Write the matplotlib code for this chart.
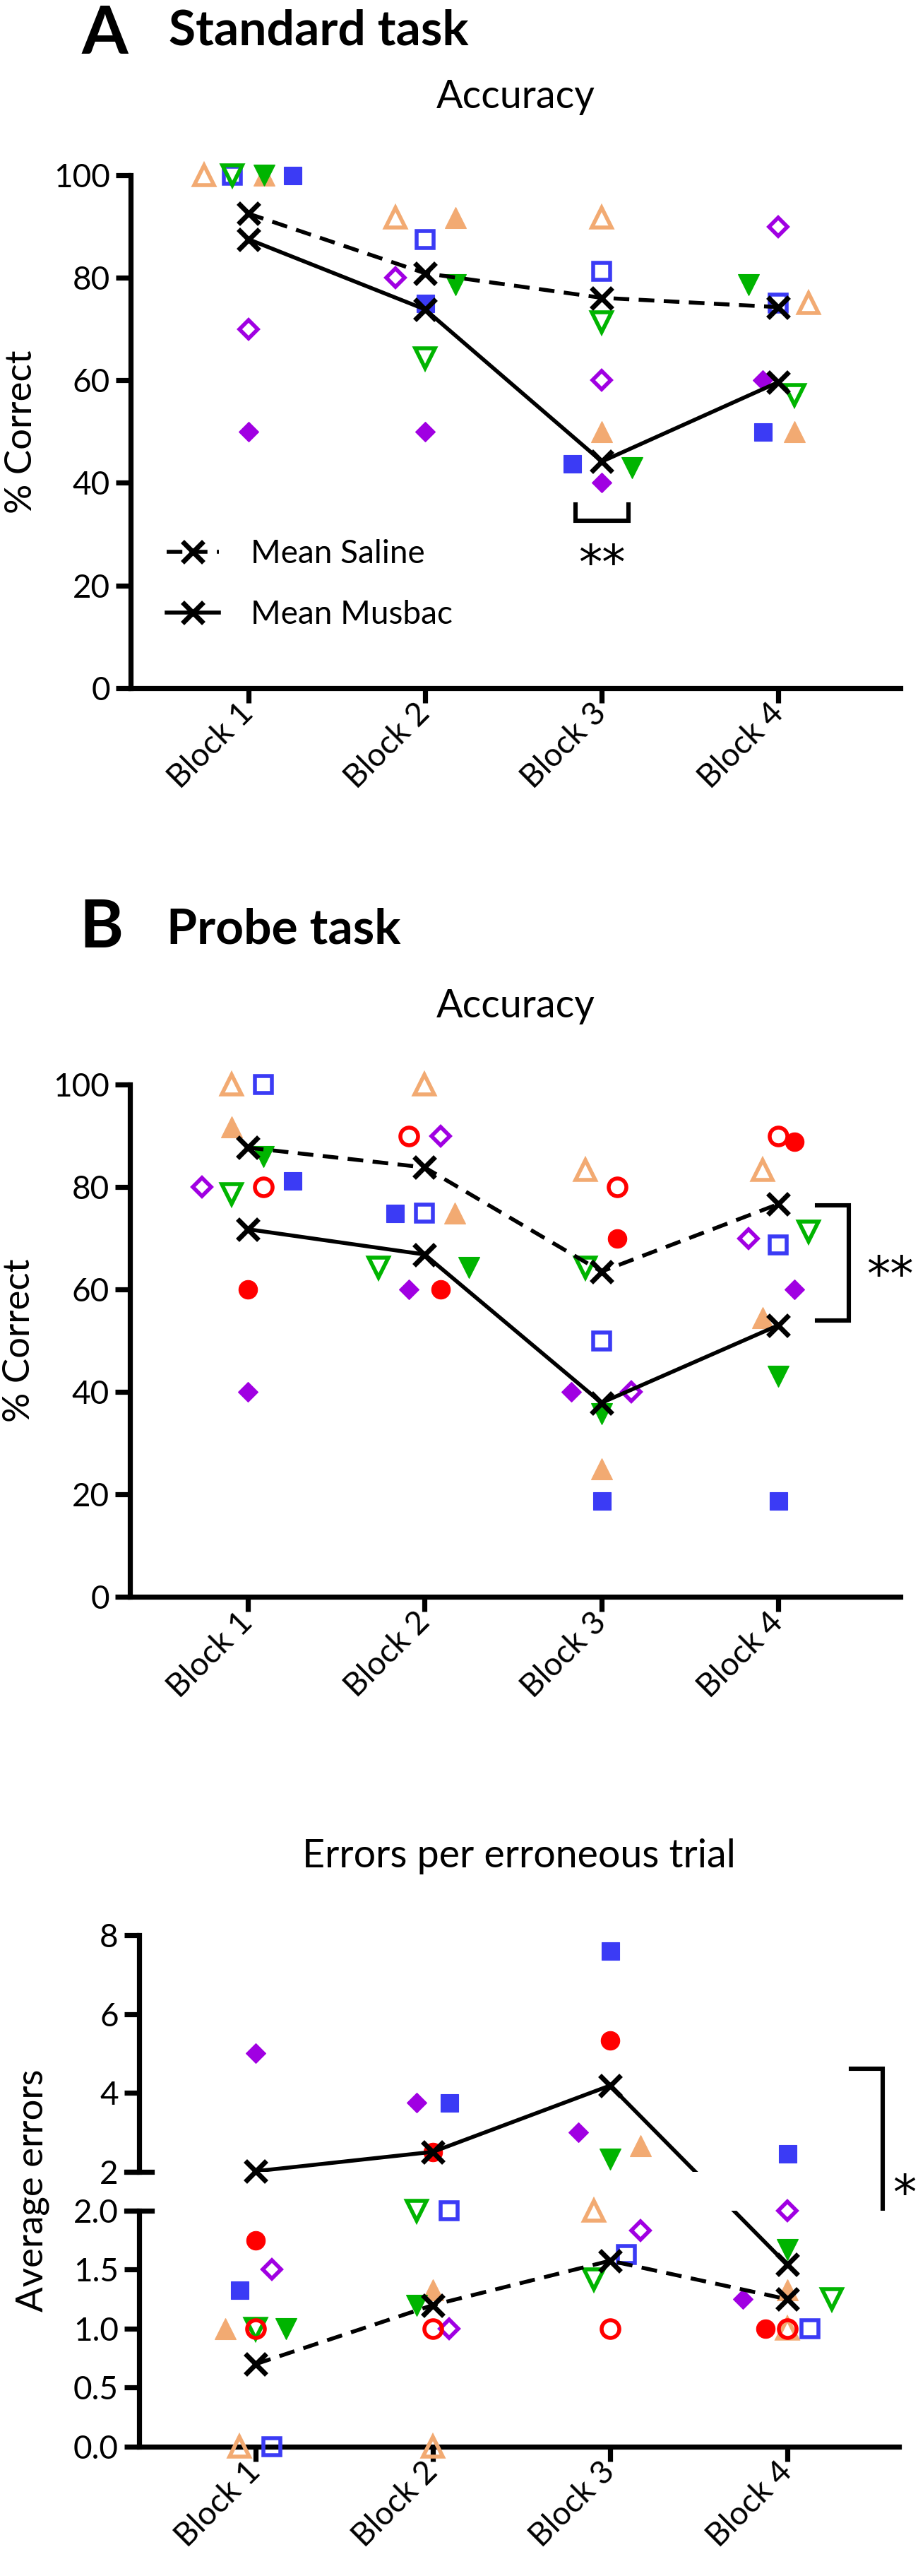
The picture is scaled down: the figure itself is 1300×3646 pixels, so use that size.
import numpy as np
import matplotlib
matplotlib.use('Agg')
from matplotlib import pyplot as plt
from matplotlib.lines import Line2D
from matplotlib.ticker import FormatStrFormatter
import matplotlib.transforms as mtransforms

plt.rcParams['font.family'] = ['Lato', 'DejaVu Sans']

blocks = [1, 2, 3, 4]
block_labels = ['Block 1', 'Block 2', 'Block 3', 'Block 4']

# A - standard task, accuracy (% correct). open symbols = saline, filled = musbac
std_sal_orange = [100, 91.7, 91.7, 75]
std_sal_blue = [100, 87.5, 81.25, 75]
std_sal_green = [100, 64.3, 71.4, 57.1]
std_sal_purple = [70, 80, 60, 90]
std_mus_orange = [100, 91.7, 50, 50]
std_mus_blue = [100, 75, 43.75, 50]
std_mus_green = [100, 78.6, 42.9, 78.6]
std_mus_purple = [50, 50, 40, 60]

# B - probe task, accuracy (% correct)
prb_sal_orange = [100, 100, 83.3, 83.3]
prb_sal_blue = [100, 75, 50, 68.75]
prb_sal_green = [78.6, 64.3, 64.3, 71.4]
prb_sal_purple = [80, 90, 40, 70]
prb_sal_red = [80, 90, 80, 90]
prb_mus_orange = [91.7, 75, 25, 54.5]
prb_mus_blue = [81.25, 75, 18.75, 18.75]
prb_mus_green = [86, 64.3, 35.7, 43]
prb_mus_purple = [40, 60, 40, 60]
prb_mus_red = [60, 60, 70, 88.9]

# probe task, errors per erroneous trial
err_sal_orange = [0, 0, 2.0, 1.0]
err_sal_blue = [0, 2.0, 1.63, 1.0]
err_sal_green = [1.0, 2.0, 1.42, 1.25]
err_sal_purple = [1.5, 1.0, 1.83, 2.0]
err_sal_red = [1.0, 1.0, 1.0, 1.0]
err_mus_orange = [1.0, 1.33, 2.67, 1.33]
err_mus_blue = [1.33, 3.75, 7.6, 2.46]
err_mus_green = [1.0, 1.2, 2.33, 1.67]
err_mus_purple = [5.0, 3.75, 3.0, 1.25]
err_mus_red = [1.75, 2.5, 5.33, 1.0]

# horizontal nudges of the symbols (in block units) so they don't overlap
std_sal_dx = {'orange': [-0.25, -0.17, 0, 0.17], 'blue': [-0.09, 0, 0, 0],
              'green': [-0.09, 0, 0, 0.09], 'purple': [0, -0.17, 0, 0]}
std_mus_dx = {'orange': [0.09, 0.17, 0, 0.09], 'blue': [0.25, 0, -0.17, -0.09],
              'green': [0.09, 0.17, 0.17, -0.17], 'purple': [0, 0, 0, -0.09]}
prb_sal_dx = {'orange': [-0.09, 0, -0.09, -0.09], 'blue': [0.09, 0, 0, 0],
              'green': [-0.09, -0.26, -0.09, 0.17], 'purple': [-0.26, 0.09, 0.17, -0.17],
              'red': [0.09, -0.09, 0.09, 0]}
prb_mus_dx = {'orange': [-0.09, 0.17, 0, -0.09], 'blue': [0.25, -0.17, 0, 0],
              'green': [0.09, 0.25, 0, 0], 'purple': [0, -0.09, -0.17, 0.09],
              'red': [0, 0.09, 0.09, 0.09]}
err_sal_dx = {'orange': [-0.09, 0, -0.09, 0], 'blue': [0.09, 0.09, 0.09, 0.13],
              'green': [0, -0.09, -0.09, 0.25], 'purple': [0.09, 0.09, 0.17, 0],
              'red': [0, 0, 0, 0]}
err_mus_dx = {'orange': [-0.17, 0, 0.17, 0], 'blue': [-0.09, 0.09, 0, 0],
              'green': [0.17, -0.09, 0, 0], 'purple': [0, -0.09, -0.18, -0.25],
              'red': [0, 0, 0, -0.125]}

colors = {'orange': '#F2AA72', 'blue': '#3B3BF5', 'green': '#00B400',
          'purple': '#A000E2', 'red': '#FF0000'}
markers = {'orange': '^', 'blue': 's', 'green': 'v', 'purple': 'D', 'red': 'o'}
msizes = {'orange': 21, 'blue': 18, 'green': 21, 'purple': 14.5, 'red': 19}

LW_AX = 5.2
LW_MEAN = 4.0
DASH = (0, (4, 2.4))
FS_TICK = 33
XMS = 22
XMEW = 5

fig = plt.figure(figsize=(13, 36.46), dpi=100)


def style_axes(ax, xlim):
    ax.set_xlim(*xlim)
    ax.spines['top'].set_visible(False)
    ax.spines['right'].set_visible(False)
    for s in ['left', 'bottom']:
        ax.spines[s].set_linewidth(LW_AX)
        ax.spines[s].set_capstyle('projecting')
    ax.tick_params(width=LW_AX, length=15, labelsize=FS_TICK, pad=6)
    ax.set_xticks(blocks)
    ax.set_xticklabels(block_labels, rotation=45, ha='right', va='center',
                       rotation_mode='anchor')


def plot_symbol(ax, x, y, name, filled):
    if filled:
        ax.plot(x, y, linestyle='', marker=markers[name], ms=msizes[name],
                color=colors[name], mec=colors[name], mew=0.8, clip_on=False, zorder=3)
    else:
        ax.plot(x, y, linestyle='', marker=markers[name], ms=msizes[name] - 1,
                mfc='none', mec=colors[name], mew=4.0, clip_on=False, zorder=3)


def plot_means(ax, sal, mus):
    ax.plot(blocks, sal, color='k', ls=DASH, lw=LW_MEAN, marker='x', ms=XMS, mew=XMEW,
            clip_on=False, zorder=4)
    ax.plot(blocks, mus, color='k', ls='-', lw=LW_MEAN, marker='x', ms=XMS, mew=XMEW,
            clip_on=False, zorder=4)


def stars(ax, x, y, s, **kw):
    ax.text(x, y, s, ha='center', va='center', fontsize=48,
            family=['DejaVu Sans'], **kw)


# ---------------- A: standard task ----------------
axA = fig.add_axes([0.1423, 0.7329, 0.8385, 0.1991])
style_axes(axA, (0.333, 4.69))
axA.set_ylim(0, 100)
axA.set_yticks([0, 20, 40, 60, 80, 100])

std_sal = {'orange': std_sal_orange, 'blue': std_sal_blue, 'green': std_sal_green,
           'purple': std_sal_purple}
std_mus = {'orange': std_mus_orange, 'blue': std_mus_blue, 'green': std_mus_green,
           'purple': std_mus_purple}
for name in std_sal:
    plot_symbol(axA, np.add(blocks, std_sal_dx[name]), std_sal[name], name, False)
for name in std_mus:
    plot_symbol(axA, np.add(blocks, std_mus_dx[name]), std_mus[name], name, True)
plot_means(axA, np.mean(list(std_sal.values()), axis=0),
           np.mean(list(std_mus.values()), axis=0))

leg_handles = [Line2D([], [], color='k', ls=DASH, lw=LW_MEAN, marker='x', ms=XMS, mew=XMEW),
               Line2D([], [], color='k', ls='-', lw=LW_MEAN, marker='x', ms=XMS, mew=XMEW)]
axA.legend(leg_handles, ['Mean Saline', 'Mean Musbac'], loc='upper left',
           bbox_to_anchor=(0.047, 0.29), frameon=False, fontsize=FS_TICK,
           handlelength=1.6, handletextpad=1.0, labelspacing=0.95,
           borderpad=0, borderaxespad=0)

# significance block 3
axA.plot([2.85, 2.85, 3.15, 3.15], [35.8, 32.6, 32.6, 35.8], color='k', lw=LW_MEAN + 0.4,
         solid_joinstyle='miter')
stars(axA, 3.0, 24.0, '**')

fig.text(0.089, 0.9792, 'A', fontsize=68, fontweight='bold', va='baseline')
fig.text(0.1838, 0.9827, 'Standard task', fontsize=50, fontweight='bold', va='baseline')
fig.text(0.5615, 0.9580, 'Accuracy', fontsize=40, ha='center', va='baseline')
fig.text(0.0231, 0.8324, '% Correct', fontsize=38, rotation=90, ha='center', va='center')

# ---------------- B: probe task ----------------
axB = fig.add_axes([0.1415, 0.3801, 0.8392, 0.1988])
style_axes(axB, (0.333, 4.69))
axB.set_ylim(0, 100)
axB.set_yticks([0, 20, 40, 60, 80, 100])

prb_sal = {'orange': prb_sal_orange, 'blue': prb_sal_blue, 'green': prb_sal_green,
           'purple': prb_sal_purple, 'red': prb_sal_red}
prb_mus = {'orange': prb_mus_orange, 'blue': prb_mus_blue, 'green': prb_mus_green,
           'purple': prb_mus_purple, 'red': prb_mus_red}
for name in prb_sal:
    plot_symbol(axB, np.add(blocks, prb_sal_dx[name]), prb_sal[name], name, False)
for name in prb_mus:
    plot_symbol(axB, np.add(blocks, prb_mus_dx[name]), prb_mus[name], name, True)
plot_means(axB, np.mean(list(prb_sal.values()), axis=0),
           np.mean(list(prb_mus.values()), axis=0))

axB.plot([4.22, 4.40, 4.40, 4.22], [76.4, 76.4, 53.9, 53.9], color='k', lw=LW_MEAN + 0.4,
         clip_on=False, solid_joinstyle='miter')
stars(axB, 4.63, 62.5, '**', clip_on=False)

fig.text(0.0862, 0.6322, 'B', fontsize=68, fontweight='bold', va='baseline')
fig.text(0.1815, 0.6336, 'Probe task', fontsize=50, fontweight='bold', va='baseline')
fig.text(0.5615, 0.6050, 'Accuracy', fontsize=40, ha='center', va='baseline')
fig.text(0.0208, 0.4797, '% Correct', fontsize=38, rotation=90, ha='center', va='center')

# ---------------- errors per erroneous trial (broken y axis) ----------------
BREAK = 2.0
xlimC = (0.342, 4.63)
axHi = fig.add_axes([0.1515, 0.1569, 0.8277, 0.0919])
axLo = fig.add_axes([0.1515, 0.0502, 0.8277, 0.0916])
style_axes(axLo, xlimC)
style_axes(axHi, xlimC)
axHi.set_ylim(BREAK, 8)
axHi.set_yticks([2, 4, 6, 8])
axHi.spines['bottom'].set_visible(False)
axHi.tick_params(axis='x', bottom=False, labelbottom=False)
axLo.set_ylim(0, BREAK)
axLo.set_yticks([0, 0.5, 1.0, 1.5, 2.0])
axLo.yaxis.set_major_formatter(FormatStrFormatter('%.1f'))

# caps at the axis break
cap = 0.017
for ax in (axHi, axLo):
    tr = mtransforms.blended_transform_factory(ax.transAxes, ax.transData)
    ax.plot([-cap, cap], [BREAK, BREAK], transform=tr, color='k', lw=LW_AX,
            clip_on=False, solid_capstyle='projecting')


def pick_axes(v):
    return axHi if v > BREAK else axLo


def convert(src, dst, x, y):
    return dst.transData.inverted().transform(src.transData.transform((x, y)))


err_sal = {'orange': err_sal_orange, 'blue': err_sal_blue, 'green': err_sal_green,
           'purple': err_sal_purple, 'red': err_sal_red}
err_mus = {'orange': err_mus_orange, 'blue': err_mus_blue, 'green': err_mus_green,
           'purple': err_mus_purple, 'red': err_mus_red}

for group, dxs, filled in ((err_sal, err_sal_dx, False), (err_mus, err_mus_dx, True)):
    for name, vals in group.items():
        for i, v in enumerate(vals):
            plot_symbol(pick_axes(v), blocks[i] + dxs[name][i], v, name, filled)

err_sal_mean = np.mean(list(err_sal.values()), axis=0)
err_mus_mean = np.mean(list(err_mus.values()), axis=0)
for means, ls in ((err_sal_mean, DASH), (err_mus_mean, '-')):
    # one straight line on screen, cut by the break
    for ax in (axHi, axLo):
        pts = np.array([convert(pick_axes(v), ax, b, v) for b, v in zip(blocks, means)])
        ax.plot(pts[:, 0], pts[:, 1], color='k', ls=ls, lw=LW_MEAN, zorder=4)
    for b, v in zip(blocks, means):
        pick_axes(v).plot(b, v, color='k', marker='x', ms=XMS, mew=XMEW, ls='',
                          clip_on=False, zorder=4)

# significance bracket spanning the break
lo_pt = convert(axLo, axHi, 4.36, 1.18)
axHi.plot([4.36, 4.54, 4.54, 4.36], [4.62, 4.62, lo_pt[1], lo_pt[1]], color='k',
          lw=LW_MEAN + 0.4, clip_on=False, solid_joinstyle='miter')
fig.text(0.9854, 0.1479, '*', fontsize=48, ha='center', va='center',
         family=['DejaVu Sans'])

fig.text(0.5654, 0.2751, 'Errors per erroneous trial', fontsize=40, ha='center',
         va='baseline')
fig.text(0.0354, 0.1497, 'Average errors', fontsize=38, rotation=90, ha='center',
         va='center')

plt.savefig('out.png', dpi=100)
